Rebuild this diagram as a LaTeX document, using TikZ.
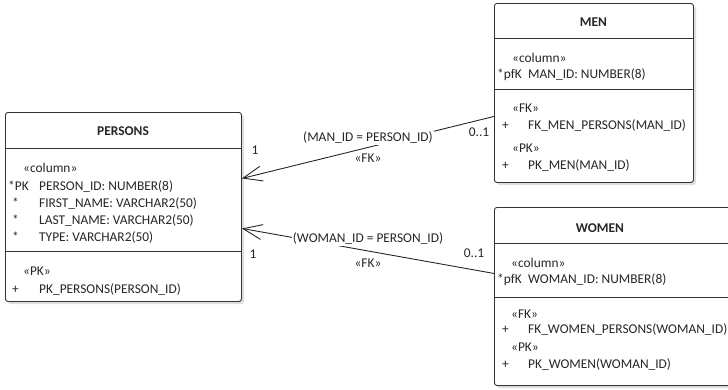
\documentclass[tikz,border=0pt]{standalone}
\usepackage{fontspec}
\setmainfont{Carlito}
\usetikzlibrary{arrows.meta}
\begin{document}
\begin{tikzpicture}[x=1pt,y=-1pt,
  box/.style={draw=black!80, line width=0.9pt, rounded corners=2.5pt, fill=white, inner sep=0pt, anchor=north west},
  shade/.style={fill=black!13, rounded corners=2.5pt},
  sepline/.style={draw=black!80, line width=0.9pt},
  txt/.style={anchor=base west, inner sep=0pt, font=\fontsize{13.4}{15}\selectfont, text=black!85},
  ttl/.style={anchor=base, inner sep=0pt, font=\fontsize{13.4}{15}\selectfont\bfseries, text=black!85},
  lbl/.style={inner sep=1pt, fill=white, font=\fontsize{13.4}{15}\selectfont, text=black!85},
  conn/.style={draw=black!85, line width=0.9pt, -{Straight Barb[length=19pt,width=15pt,line width=0.9pt]}}]
\useasboundingbox (0,0) rectangle (728,389);
% shadows
\fill[shade] (8,115) rectangle (244,304);
\fill[shade] (497,6) rectangle (696,185);
\fill[shade] (497,210) rectangle (745,388);
% boxes
\node[box, minimum width=236pt, minimum height=189pt] (persons) at (5,112) {};
\node[box, minimum width=199pt, minimum height=179pt] (men) at (494,3) {};
\node[box, minimum width=246pt, minimum height=178pt] (women) at (494,207) {};
% separators
\draw[sepline] (5,148) -- (241,148);
\draw[sepline] (5,251) -- (241,251);
\draw[sepline] (494,38) -- (693,38);
\draw[sepline] (494,89) -- (693,89);
\draw[sepline] (494,243) -- (740,243);
\draw[sepline] (494,297) -- (740,297);
% PERSONS text
\node[ttl] (pt) at (123,135) {PERSONS};
\node[txt] (p1) at (23,172) {«column»};
\node[txt] (p2a) at (8,190) {*PK};
\node[txt] (p2) at (39,190) {PERSON\_ID: NUMBER(8)};
\node[txt] (p3a) at (12,207) {*};
\node[txt] (p3) at (39,207) {FIRST\_NAME: VARCHAR2(50)};
\node[txt] (p4a) at (12,224) {*};
\node[txt] (p4) at (39,224) {LAST\_NAME: VARCHAR2(50)};
\node[txt] (p5a) at (12,241) {*};
\node[txt] (p5) at (39,241) {TYPE: VARCHAR2(50)};
\node[txt] (p6) at (23,275) {«PK»};
\node[txt] (p7a) at (12,293) {+};
\node[txt] (p7) at (39,293) {PK\_PERSONS(PERSON\_ID)};
% MEN text
\node[ttl] (mt) at (593.5,26) {MEN};
\node[txt] (m1) at (512,62) {«column»};
\node[txt] (m2a) at (497,78) {*pfK};
\node[txt] (m2) at (528,78) {MAN\_ID: NUMBER(8)};
\node[txt] (m3) at (512,112) {«FK»};
\node[txt] (m4a) at (502,129) {+};
\node[txt] (m4) at (528,129) {FK\_MEN\_PERSONS(MAN\_ID)};
\node[txt] (m5) at (512,152) {«PK»};
\node[txt] (m6a) at (502,169) {+};
\node[txt] (m6) at (528,169) {PK\_MEN(MAN\_ID)};
% WOMEN text
\node[ttl] (wt) at (600,232) {WOMEN};
\node[txt] (w1) at (511,267) {«column»};
\node[txt] (w2a) at (497,283) {*pfK};
\node[txt] (w2) at (528,283) {WOMAN\_ID: NUMBER(8)};
\node[txt] (w3) at (511,318) {«FK»};
\node[txt] (w4a) at (502,333) {+};
\node[txt] (w4) at (528,333) {FK\_WOMEN\_PERSONS(WOMAN\_ID)};
\node[txt] (w5) at (511,351) {«PK»};
\node[txt] (w6a) at (502,368) {+};
\node[txt] (w6) at (528,368) {PK\_WOMEN(WOMAN\_ID)};
% connectors
\draw[conn] ([yshift=-23.5pt]men.west) -- ([yshift=28.5pt]persons.east);
\draw[conn] ([yshift=23pt]women.west) -- ([yshift=-21.5pt]persons.east);
% connector labels
\node[lbl] (l1) at (368,138) {(MAN\_ID = PERSON\_ID)};
\node[lbl] (l1s) at (368,158) {«FK»};
\node[lbl] (l1a) at (255,150) {1};
\node[lbl] (l1b) at (479,132) {0..1};
\node[lbl] (l2) at (368,239) {(WOMAN\_ID = PERSON\_ID)};
\node[lbl] (l2s) at (368,263) {«FK»};
\node[lbl] (l2a) at (253,254) {1};
\node[lbl] (l2b) at (474,253) {0..1};
\end{tikzpicture}
\end{document}
